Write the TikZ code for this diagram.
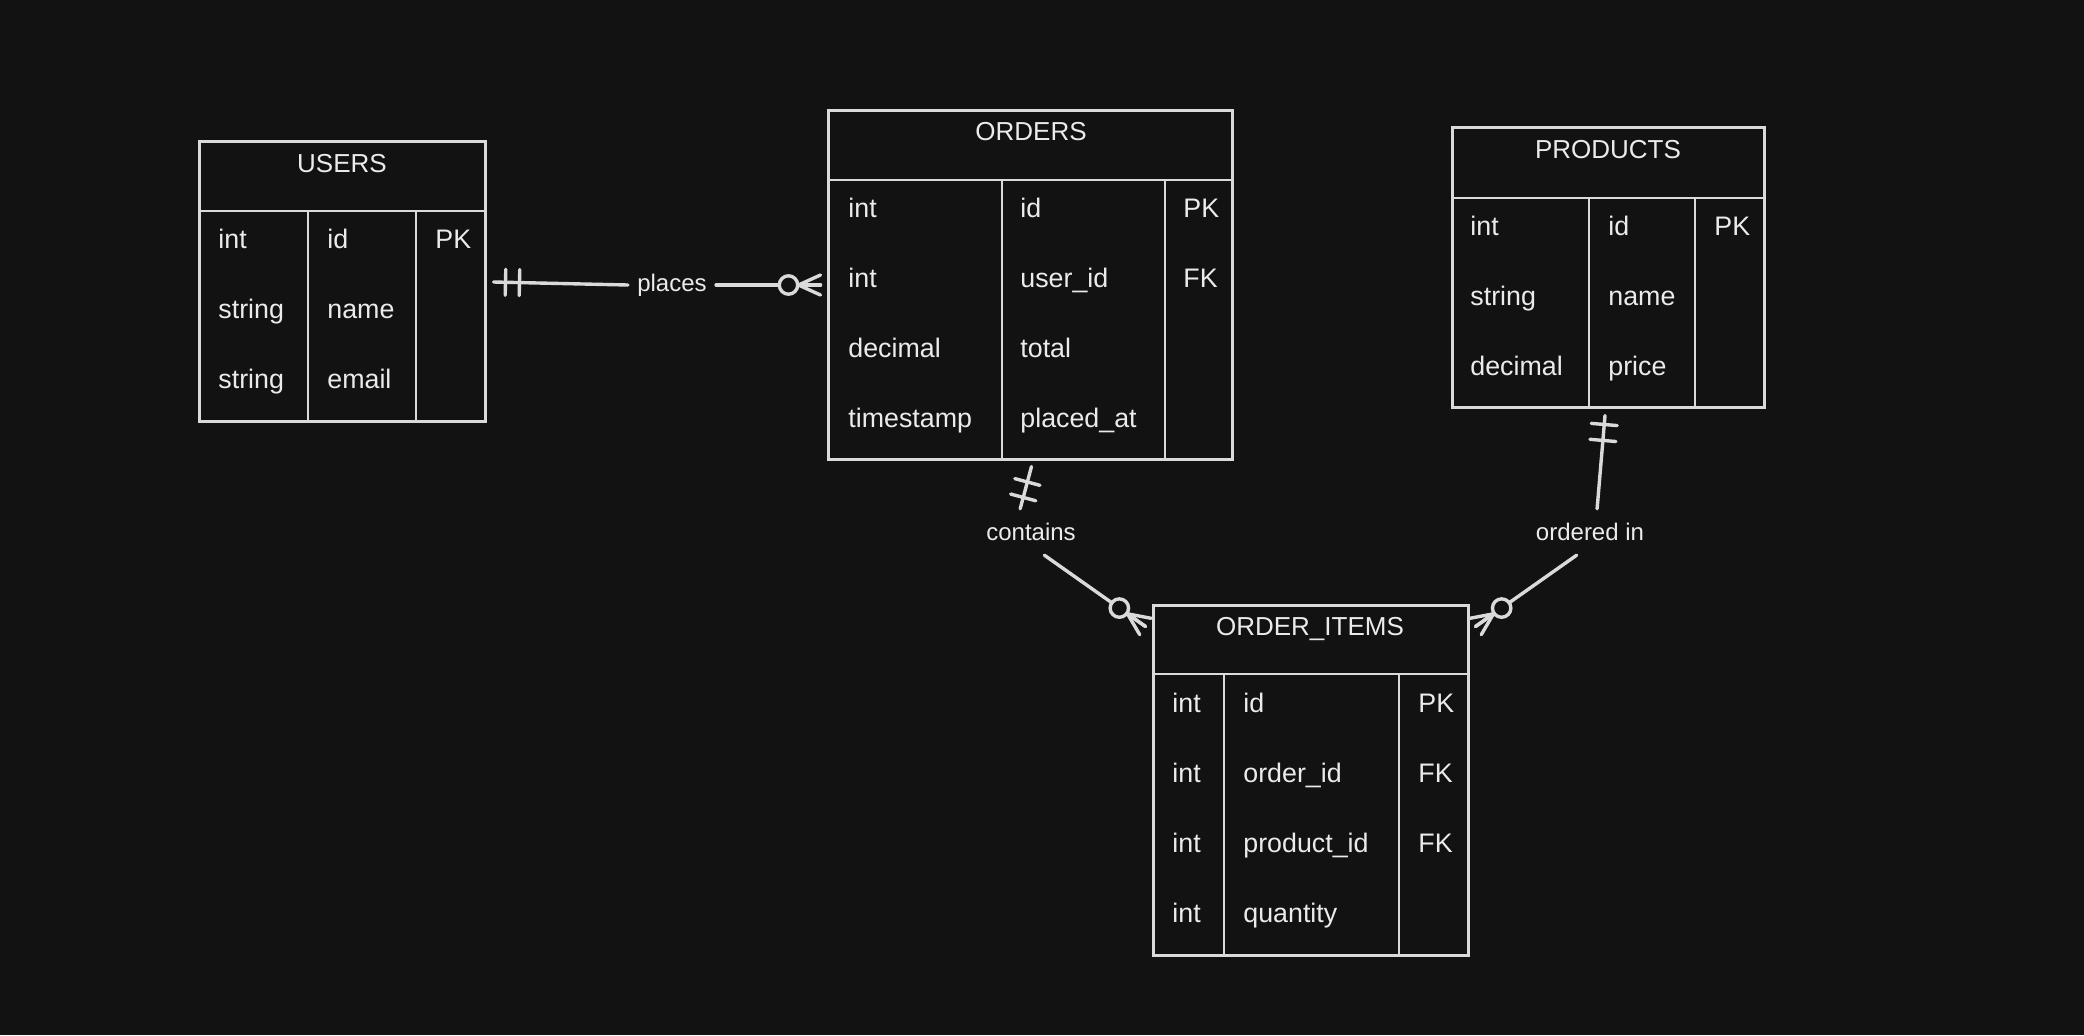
\documentclass[tikz,border=0pt]{standalone}
\usepackage{fontspec}
\setmainfont{Liberation Sans}
\usetikzlibrary{calc,fit}
\definecolor{bg}{HTML}{121212}
\definecolor{ink}{HTML}{DADADA}
\definecolor{txt}{HTML}{EBEBEB}
\tikzset{
  tbl/.style={draw=ink, line width=1.5pt, inner sep=0pt},
  hdrline/.style={draw=ink, line width=1.2pt},
  divline/.style={draw=ink, line width=0.75pt},
  conn/.style={draw=ink, line width=1.7pt, line cap=round},
  ttl/.style={text=txt, font=\fontsize{13}{15}\selectfont, anchor=base, inner sep=0pt},
  cell/.style={text=txt, font=\fontsize{13.4}{15}\selectfont, anchor=base west, inner sep=0pt},
  rel/.style={text=txt, font=\fontsize{12}{14}\selectfont, fill=bg, inner xsep=4.5pt, inner ysep=7pt},
}
\newcommand\barmark[3]{%
  \path ($(#1)!#3!(#2)$) coordinate (bmk);
  \draw[conn] ($(bmk)!6.5pt!90:(#2)$) -- ($(bmk)!6.5pt!-90:(#2)$);
}
\newcommand\crowmark[2]{%
  \path ($(#1)!11pt!(#2)$) coordinate (crw);
  \draw[conn] (crw) -- (#1);
  \draw[conn] (crw) -- ($(#1)!5pt!90:(#2)$);
  \draw[conn] (crw) -- ($(#1)!5pt!-90:(#2)$);
  \path ($(#1)!16pt!(#2)$) coordinate (crc);
  \draw[conn, fill=bg] (crc) circle (4.6pt);
}
\begin{document}
\begin{tikzpicture}[x=0.5pt,y=-0.5pt]
\fill[bg] (0,0) rectangle (2084,1035);
\useasboundingbox (0,0) rectangle (2084,1035);

% ---------- USERS ----------
\node[tbl, fit={(199,141)(485,421)}] (users) {};
\draw[hdrline] (199,211) -- (485,211);
\draw[divline] (308,211) -- (308,421);
\draw[divline] (416,211) -- (416,421);
\node[ttl] (usersT) at (342,172) {USERS};
\node[cell] (u11) at (218,248) {int};
\node[cell] (u12) at (327,248) {id};
\node[cell] (u13) at (435,248) {PK};
\node[cell] (u21) at (218,318) {string};
\node[cell] (u22) at (327,318) {name};
\node[cell] (u31) at (218,388) {string};
\node[cell] (u32) at (327,388) {email};

% ---------- ORDERS ----------
\node[tbl, fit={(828,110)(1232,459)}] (orders) {};
\draw[hdrline] (828,180) -- (1232,180);
\draw[divline] (1002,180) -- (1002,459);
\draw[divline] (1165,180) -- (1165,459);
\node[ttl] (ordersT) at (1031,140) {ORDERS};
\node[cell] (o11) at (848,217) {int};
\node[cell] (o12) at (1020,217) {id};
\node[cell] (o13) at (1183,217) {PK};
\node[cell] (o21) at (848,287) {int};
\node[cell] (o22) at (1020,287) {user\_id};
\node[cell] (o23) at (1183,287) {FK};
\node[cell] (o31) at (848,357) {decimal};
\node[cell] (o32) at (1020,357) {total};
\node[cell] (o41) at (848,427) {timestamp};
\node[cell] (o42) at (1020,427) {placed\_at};

% ---------- PRODUCTS ----------
\node[tbl, fit={(1452,127)(1764,407)}] (products) {};
\draw[hdrline] (1452,198) -- (1764,198);
\draw[divline] (1589,198) -- (1589,407);
\draw[divline] (1695,198) -- (1695,407);
\node[ttl] (productsT) at (1608,158) {PRODUCTS};
\node[cell] (p11) at (1470,235) {int};
\node[cell] (p12) at (1608,235) {id};
\node[cell] (p13) at (1714,235) {PK};
\node[cell] (p21) at (1470,305) {string};
\node[cell] (p22) at (1608,305) {name};
\node[cell] (p31) at (1470,375) {decimal};
\node[cell] (p32) at (1608,375) {price};

% ---------- ORDER_ITEMS ----------
\node[tbl, fit={(1153,605)(1468,955)}] (oitems) {};
\draw[hdrline] (1153,674) -- (1468,674);
\draw[divline] (1224,674) -- (1224,955);
\draw[divline] (1399,674) -- (1399,955);
\node[ttl] (oitemsT) at (1310,635) {ORDER\_ITEMS};
\node[cell] (i11) at (1172,712) {int};
\node[cell] (i12) at (1243,712) {id};
\node[cell] (i13) at (1418,712) {PK};
\node[cell] (i21) at (1172,782) {int};
\node[cell] (i22) at (1243,782) {order\_id};
\node[cell] (i23) at (1418,782) {FK};
\node[cell] (i31) at (1172,852) {int};
\node[cell] (i32) at (1243,852) {product\_id};
\node[cell] (i33) at (1418,852) {FK};
\node[cell] (i41) at (1172,922) {int};
\node[cell] (i42) at (1243,922) {quantity};

% ---------- relationship labels ----------
\node[rel] (lplaces) at (672,285) {places};
\node[rel] (lcontains) at (1031,532) {contains};
\node[rel] (lordered) at (1590,532) {ordered in};

% ---------- connector end points ----------
\coordinate (pA) at ($(users.east)+(7,1)$);
\coordinate (pB) at ($(orders.west)+(-6,0.5)$);
\coordinate (pC) at ($(orders.south)+(1.5,6)$);
\coordinate (pD) at ($(oitems.north west)+(-6,23)$);
\coordinate (pE) at ($(products.south)+(-3,7)$);
\coordinate (pF) at ($(oitems.north east)+(6,23)$);

% USERS -- places -- ORDERS
\draw[conn] (pA) -- (lplaces.west);
\draw[conn] (lplaces.east) -- (pB);
\barmark{pA}{lplaces.west}{6pt}
\barmark{pA}{lplaces.west}{13pt}
\crowmark{pB}{lplaces.east}

% ORDERS -- contains -- ORDER_ITEMS
\draw[conn] (pC) -- (lcontains.115);
\draw[conn] (lcontains.-60) -- (pD);
\barmark{pC}{lcontains.115}{8pt}
\barmark{pC}{lcontains.115}{16pt}
\crowmark{pD}{lcontains.-60}

% PRODUCTS -- ordered in -- ORDER_ITEMS
\draw[conn] (pE) -- (lordered.73);
\draw[conn] (lordered.-120) -- (pF);
\barmark{pE}{lordered.73}{4.5pt}
\barmark{pE}{lordered.73}{12.5pt}
\crowmark{pF}{lordered.-120}
\end{tikzpicture}
\end{document}
